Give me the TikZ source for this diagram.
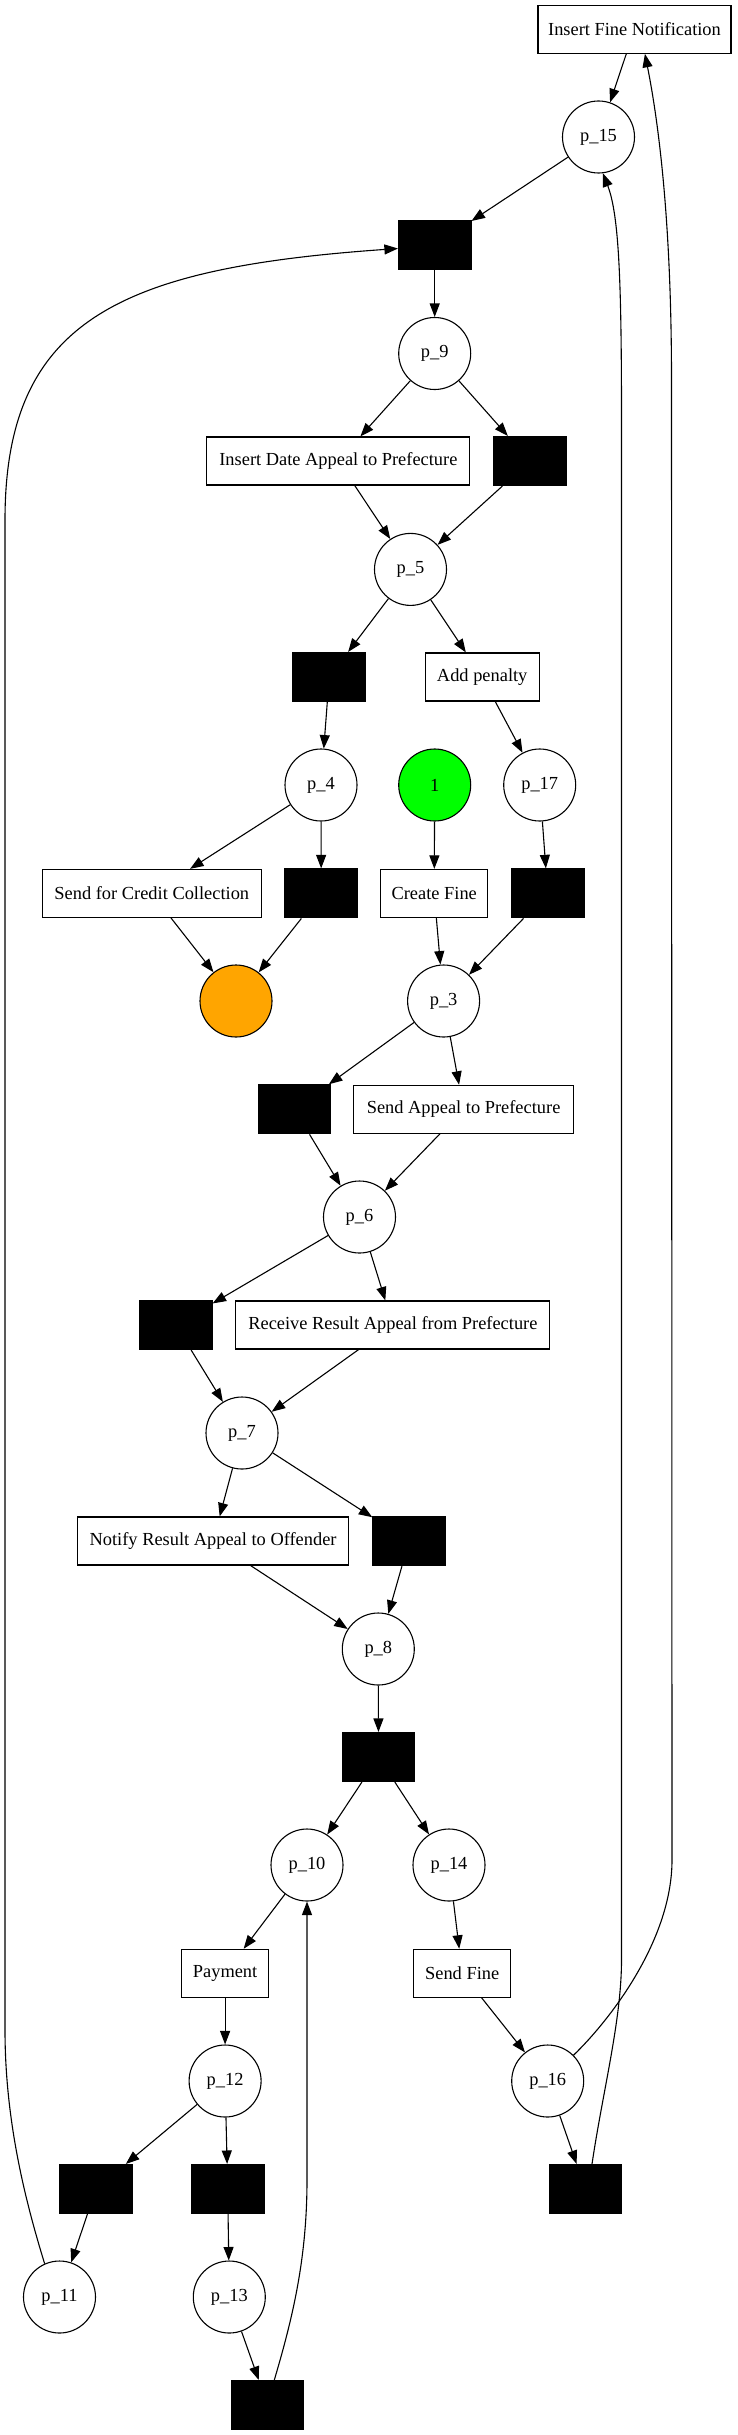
\documentclass[tikz,border=0pt]{standalone}
\usepackage{fontspec}
\setmainfont{Liberation Serif}
\usetikzlibrary{arrows.meta}
\definecolor{placegreen}{RGB}{0,255,0}
\definecolor{placeorange}{RGB}{255,165,0}
\begin{document}
\begin{tikzpicture}[x=1pt,y=-1pt,
  every node/.style={font=\fontsize{18.4}{21}\selectfont},
  place/.style={circle,draw,line width=1.1pt,minimum size=72pt,inner sep=0pt},
  trans/.style={rectangle,draw,fill=black,line width=1.1pt,minimum width=72.5pt,minimum height=49pt,inner sep=0pt},
  act/.style={rectangle,draw,line width=1.1pt,minimum height=48pt,inner sep=0pt},
  arr/.style={-{Triangle[length=13.5pt,width=10pt]},line width=1.1pt}]
\useasboundingbox (0,0) rectangle (737,2435);
% activities
\node[act,minimum width=193pt] (INF) at (634.5,29.3) {Insert Fine Notification};
\node[act,minimum width=263pt] (InsDate) at (338.4,461) {Insert Date Appeal to Prefecture};
\node[act,minimum width=113.7pt] (AddPen) at (482.2,677) {Add penalty};
\node[act,minimum width=219pt] (SendCC) at (151.8,893.4) {Send for Credit Collection};
\node[act,minimum width=107pt] (Create) at (434.2,893.4) {Create Fine};
\node[act,minimum width=219.4pt] (SendApp) at (463.6,1109.3) {Send Appeal to Prefecture};
\node[act,minimum width=314pt] (Receive) at (392.9,1325) {Receive Result Appeal from Prefecture};
\node[act,minimum width=271pt] (Notify) at (213.1,1541) {Notify Result Appeal to Offender};
\node[act,minimum width=86.4pt] (Payment) at (225.1,1973.3) {Payment};
\node[act,minimum width=97.3pt] (SendFine) at (462.2,1973.3) {Send Fine};
% silent transitions
\node[trans] (T1) at (434.7,245.3) {};
\node[trans] (T2) at (530,461) {};
\node[trans] (T3) at (329.2,677) {};
\node[trans] (T4) at (321.2,893.4) {};
\node[trans] (T5) at (547.7,893.4) {};
\node[trans] (T6) at (294.4,1109.3) {};
\node[trans] (T7) at (175.8,1325) {};
\node[trans] (T8) at (409.1,1541) {};
\node[trans] (T9) at (378.5,1757) {};
\node[trans] (T10) at (95.9,2189) {};
\node[trans] (T11) at (227.7,2189) {};
\node[trans] (T12) at (585.3,2189) {};
\node[trans] (T13) at (267.6,2405) {};
% places
\node[place] (p15) at (598.5,137) {p\_15};
\node[place] (p9) at (434.7,353.5) {p\_9};
\node[place] (p5) at (410.5,569.4) {p\_5};
\node[place] (p4) at (321,785) {p\_4};
\node[place,fill=placegreen] (start) at (434.7,785) {1};
\node[place] (p17) at (539.7,785) {p\_17};
\node[place,fill=placeorange] (final) at (236,1001) {};
\node[place] (p3) at (443.6,1001) {p\_3};
\node[place] (p6) at (359.5,1217) {p\_6};
\node[place] (p7) at (242,1433) {p\_7};
\node[place] (p8) at (378.3,1649) {p\_8};
\node[place] (p10) at (307,1865) {p\_10};
\node[place] (p14) at (449,1865) {p\_14};
\node[place] (p12) at (225.1,2081) {p\_12};
\node[place] (p16) at (547.7,2081) {p\_16};
\node[place] (p11) at (59.5,2297) {p\_11};
\node[place] (p13) at (229.3,2297) {p\_13};
% straight arcs
\draw[arr] (INF) -- (p15);
\draw[arr] (p15) -- (T1);
\draw[arr] (T1) -- (p9);
\draw[arr] (p9) -- (InsDate);
\draw[arr] (p9) -- (T2);
\draw[arr] (InsDate) -- (p5);
\draw[arr] (T2) -- (p5);
\draw[arr] (p5) -- (T3);
\draw[arr] (p5) -- (AddPen);
\draw[arr] (T3) -- (p4);
\draw[arr] (AddPen) -- (p17);
\draw[arr] (p4) -- (SendCC);
\draw[arr] (p4) -- (T4);
\draw[arr] (start) -- (Create);
\draw[arr] (p17) -- (T5);
\draw[arr] (SendCC) -- (final);
\draw[arr] (T4) -- (final);
\draw[arr] (Create) -- (p3);
\draw[arr] (T5) -- (p3);
\draw[arr] (p3) -- (T6);
\draw[arr] (p3) -- (SendApp);
\draw[arr] (T6) -- (p6);
\draw[arr] (SendApp) -- (p6);
\draw[arr] (p6) -- (T7);
\draw[arr] (p6) -- (Receive);
\draw[arr] (T7) -- (p7);
\draw[arr] (Receive) -- (p7);
\draw[arr] (p7) -- (Notify);
\draw[arr] (p7) -- (T8);
\draw[arr] (Notify) -- (p8);
\draw[arr] (T8) -- (p8);
\draw[arr] (p8) -- (T9);
\draw[arr] (T9) -- (p10);
\draw[arr] (T9) -- (p14);
\draw[arr] (p10) -- (Payment);
\draw[arr] (p14) -- (SendFine);
\draw[arr] (Payment) -- (p12);
\draw[arr] (SendFine) -- (p16);
\draw[arr] (p12) -- (T10);
\draw[arr] (p12) -- (T11);
\draw[arr] (p16) -- (T12);
\draw[arr] (T10) -- (p11);
\draw[arr] (T11) -- (p13);
\draw[arr] (p13) -- (T13);
% curved arcs
\draw[arr] (p11.114) .. controls (25,2200) and (5,2120) .. (5,2030) -- (5,520) .. controls (5,320) and (120,268) .. (T1.185);
\draw[arr] (T13.75) .. controls (292,2320) and (307,2260) .. (307,2180) -- (p10.south);
\draw[arr] (T12.75) .. controls (603,2090) and (621.5,2020) .. (621.5,1960) -- (621.5,420) .. controls (621.5,280) and (619,215) .. (p15.-83);
\draw[arr] (p16.45) .. controls (610,2020) and (672,1940) .. (672,1860) -- (671.5,380) .. controls (671.5,230) and (660,130) .. (INF.-67);
\end{tikzpicture}
\end{document}
